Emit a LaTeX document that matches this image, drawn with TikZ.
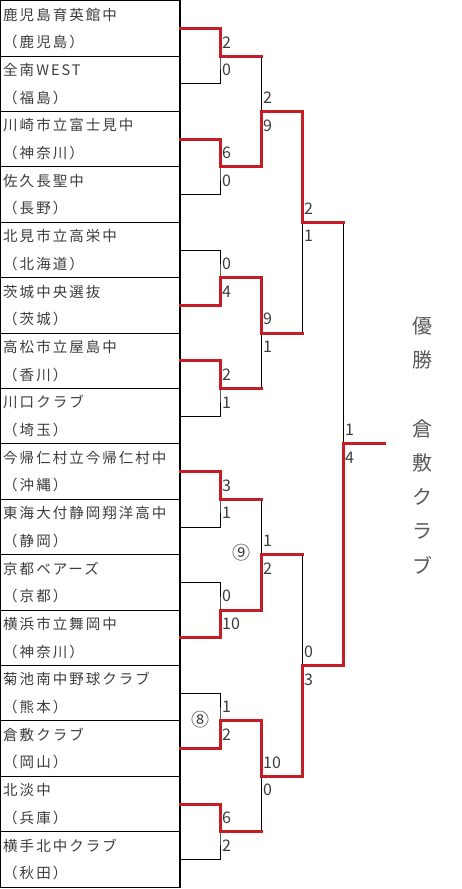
\documentclass[tikz,border=0pt]{standalone}
\usepackage{fontspec}
\setmainfont{Noto Sans CJK JP}
\newfontfamily\jpname[LetterSpace=14]{Noto Sans CJK JP}
\definecolor{wred}{RGB}{198,28,36}
\definecolor{txt}{RGB}{60,60,60}
\tikzset{
  boxline/.style={line width=1.1pt, black},
  brk/.style={line width=0.9pt, black},
  win/.style={line width=3pt, wred, line cap=rect, line join=miter},
  tname/.style={font=\jpname\fontsize{14.5}{15}\selectfont, text=txt, anchor=west, inner sep=0pt},
  score/.style={font=\fontsize{16}{16}\selectfont, text=txt, anchor=west, inner sep=0pt},
  circ/.style={font=\fontsize{18}{18}\selectfont, text=txt, inner sep=0pt},
  vt/.style={font=\fontsize{20}{20}\selectfont, text=txt!85, inner sep=0pt}
}
\begin{document}
\begin{tikzpicture}[x=1pt,y=-1pt]
\useasboundingbox (0,0) rectangle (462,889);
% team boxes
\draw[boxline] (0.7,0.7) rectangle (180,887.1);
\foreach \k in {1,...,15} \draw[boxline] (0.7,{0.7+55.4*\k}) -- (180,{0.7+55.4*\k});
% team names
\foreach \n/\p [count=\k from 0] in {鹿児島育英館中/鹿児島,全南WEST/福島,川崎市立富士見中/神奈川,佐久長聖中/長野,北見市立高栄中/北海道,茨城中央選抜/茨城,高松市立屋島中/香川,川口クラブ/埼玉,今帰仁村立今帰仁村中/沖縄,東海大付静岡翔洋高中/静岡,京都ベアーズ/京都,横浜市立舞岡中/神奈川,菊池南中野球クラブ/熊本,倉敷クラブ/岡山,北淡中/兵庫,横手北中クラブ/秋田} {
  \node[tname] (nm\k) at (3,{0.7+27.7*(2*\k+0.5)}) {\n};
  \node[tname] (pf\k) at (3,{0.7+27.7*(2*\k+1.5)}) {（\p）};
  \coordinate (e\k) at (180,{0.7+27.7*(2*\k+1)});
}
% bracket coordinates
\foreach \m in {0,...,7} {
  \coordinate (a\m) at (220,{0.7+27.7*(4*\m+2)});
  \coordinate (b\m) at (261,{0.7+27.7*(4*\m+2)});
}
\foreach \j in {0,...,3} {
  \coordinate (c\j) at (261,{0.7+27.7*(8*\j+4)});
  \coordinate (d\j) at (302,{0.7+27.7*(8*\j+4)});
}
\coordinate (g0) at (302,{0.7+27.7*8});
\coordinate (h0) at (343,{0.7+27.7*8});
\coordinate (g1) at (302,{0.7+27.7*24});
\coordinate (h1) at (343,{0.7+27.7*24});
\coordinate (fin) at (343,{0.7+27.7*16});
\coordinate (champ) at (384,{0.7+27.7*16});
% black bracket
\foreach \m in {0,...,7} {
  \pgfmathtruncatemacro\ta{2*\m}
  \pgfmathtruncatemacro\tb{2*\m+1}
  \draw[brk] (e\ta) -| (a\m) |- (e\tb);
  \draw[brk] (a\m) -- (b\m);
}
\foreach \j in {0,...,3} {
  \pgfmathtruncatemacro\ba{2*\j}
  \pgfmathtruncatemacro\bb{2*\j+1}
  \draw[brk] (b\ba) -- (b\bb);
  \draw[brk] (c\j) -- (d\j);
}
\draw[brk] (d0) -- (d1);
\draw[brk] (d2) -- (d3);
\draw[brk] (g0) -- (h0);
\draw[brk] (g1) -- (h1);
\draw[brk] (h0) -- (h1);
\draw[brk] (fin) -- (champ);
% winners in red
\foreach \m/\w in {0/0,1/2,2/5,3/6,4/8,5/11,6/13,7/14}
  \draw[win] (e\w) -| (a\m) -- (b\m);
\foreach \j/\w in {0/1,1/2,2/5,3/6}
  \draw[win] (b\w) -- (c\j) -- (d\j);
\draw[win] (d0) -- (g0) -- (h0);
\draw[win] (d3) -- (g1) -- (h1);
\draw[win] (h1) -- (fin) -- (champ);
% scores
\foreach \m/\u/\l in {0/2/0,1/6/0,2/0/4,3/2/1,4/3/1,5/0/10,6/1/2,7/6/2} {
  \node[score] (sau\m) at (222,{0.7+27.7*(4*\m+1.5)}) {\u};
  \node[score] (sal\m) at (222,{0.7+27.7*(4*\m+2.5)}) {\l};
}
\foreach \j/\u/\l in {0/2/9,1/9/1,2/1/2,3/10/0} {
  \node[score] (sbu\j) at (263,{0.7+27.7*(8*\j+3.5)}) {\u};
  \node[score] (sbl\j) at (263,{0.7+27.7*(8*\j+4.5)}) {\l};
}
\foreach \s/\u/\l in {0/2/1,1/0/3} {
  \node[score] (scu\s) at (304,{0.7+27.7*(16*\s+7.5)}) {\u};
  \node[score] (scl\s) at (304,{0.7+27.7*(16*\s+8.5)}) {\l};
}
\node[score] (sdu) at (345,{0.7+27.7*15.5}) {1};
\node[score] (sdl) at (345,{0.7+27.7*16.5}) {4};
% circled match numbers
\node[circ] (m9) at (241,553) {⑨};
\node[circ] (m8) at (200,720) {⑧};
% champion
\foreach \c [count=\k from 0] in {優,勝,{},倉,敷,ク,ラ,ブ}
  \node[vt] (v\k) at (422,{326+34.2*\k}) {\c};
\end{tikzpicture}
\end{document}
